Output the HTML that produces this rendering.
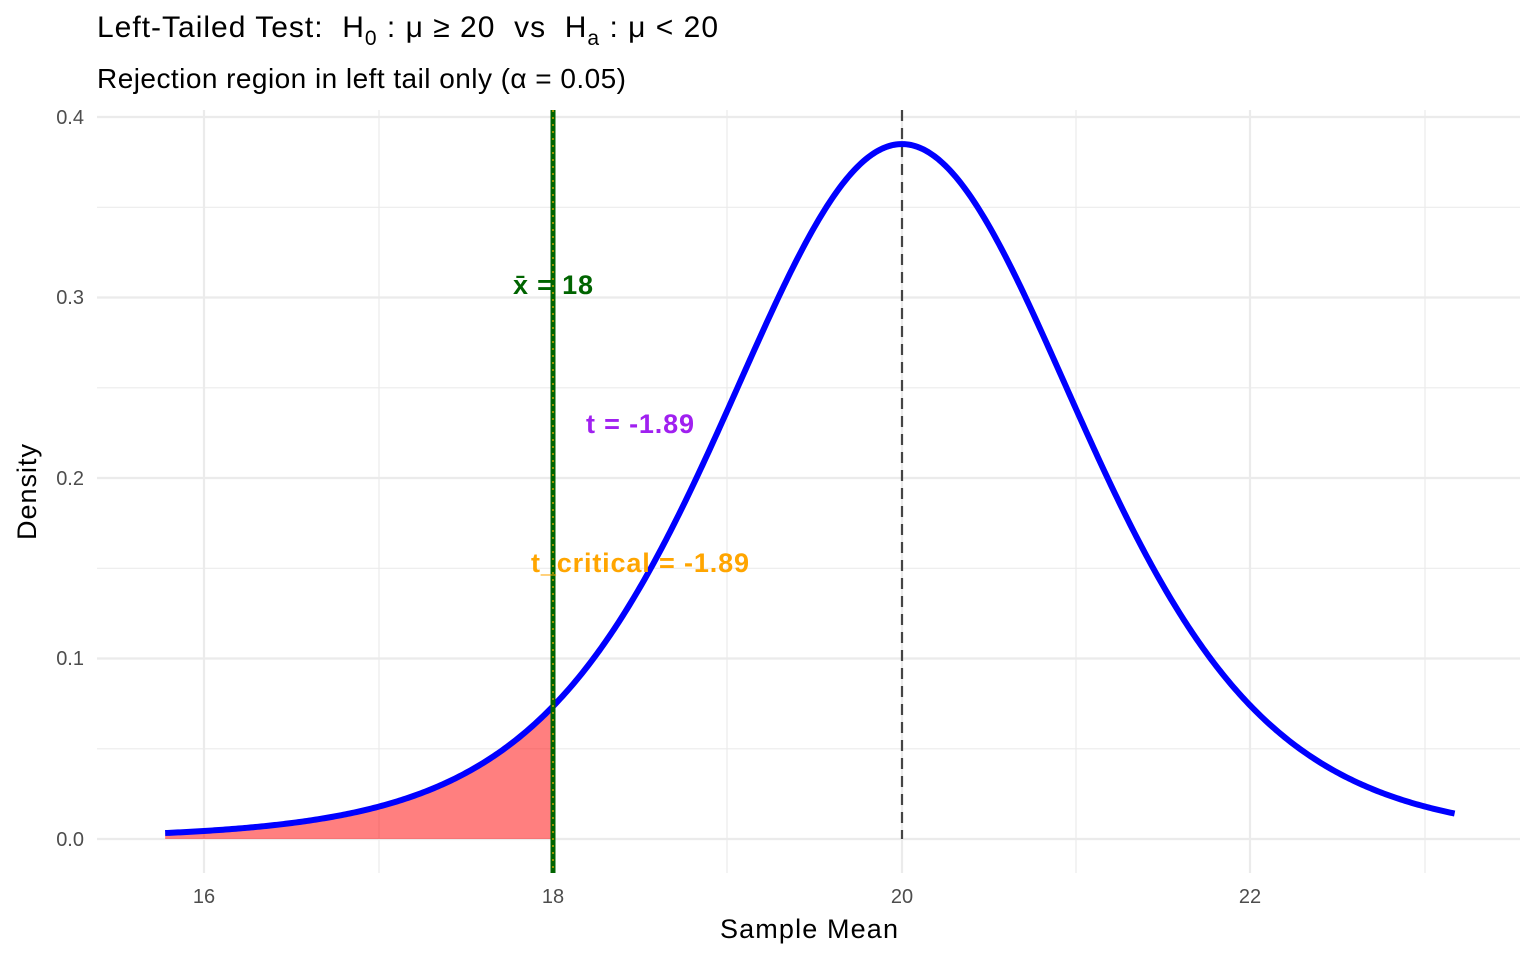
<!DOCTYPE html>
<html><head><meta charset="utf-8"><style>
body{margin:0;background:#fff}
svg text{font-family:"Liberation Sans",sans-serif}
</style></head><body>
<svg id="s" width="1536" height="960" xmlns="http://www.w3.org/2000/svg">
<g stroke="#ebebeb" stroke-width="1.2">
<line x1="97" x2="1520" y1="748.8" y2="748.8"/><line x1="97" x2="1520" y1="568.3" y2="568.3"/><line x1="97" x2="1520" y1="387.8" y2="387.8"/><line x1="97" x2="1520" y1="207.3" y2="207.3"/>
<line x1="379" x2="379" y1="110" y2="873"/><line x1="727" x2="727" y1="110" y2="873"/><line x1="1076" x2="1076" y1="110" y2="873"/><line x1="1425" x2="1425" y1="110" y2="873"/>
</g>
<g stroke="#ebebeb" stroke-width="2.2">
<line x1="97" x2="1520" y1="839" y2="839"/><line x1="97" x2="1520" y1="658.5" y2="658.5"/><line x1="97" x2="1520" y1="478" y2="478"/><line x1="97" x2="1520" y1="297.5" y2="297.5"/><line x1="97" x2="1520" y1="117" y2="117"/>
<line x1="204" x2="204" y1="110" y2="873"/><line x1="553" x2="553" y1="110" y2="873"/><line x1="902" x2="902" y1="110" y2="873"/><line x1="1250" x2="1250" y1="110" y2="873"/>
</g>
<path id="fill" fill="#ff0000" fill-opacity="0.5"/>
<line x1="902" x2="902" y1="110" y2="839" stroke="#444" stroke-width="2.2" stroke-dasharray="11,7"/>
<path id="curve" fill="none" stroke="#0000ff" stroke-width="6"/>
<line x1="553" x2="553" y1="110" y2="873" stroke="#006400" stroke-width="5"/>
<line x1="553" x2="553" y1="110" y2="873" stroke="#c8a000" stroke-width="1.5" stroke-dasharray="2,5"/>
<text x="553" y="294" text-anchor="middle" font-size="27" font-weight="bold" fill="#006400" textLength="80">x̄ = 18</text>
<text x="640" y="433" text-anchor="middle" font-size="27" font-weight="bold" fill="#a020f0" textLength="108">t = -1.89</text>
<text x="640" y="572" text-anchor="middle" font-size="27" font-weight="bold" fill="#ffa500" textLength="218">t_critical = -1.89</text>
<g font-size="20" fill="#4d4d4d" text-anchor="end">
<text x="84" y="846">0.0</text><text x="84" y="665">0.1</text><text x="84" y="485">0.2</text><text x="84" y="304">0.3</text><text x="84" y="124">0.4</text>
</g>
<g font-size="20" fill="#4d4d4d" text-anchor="middle">
<text x="204" y="903">16</text><text x="553" y="903">18</text><text x="902" y="903">20</text><text x="1250" y="903">22</text>
</g>
<text x="809" y="938" text-anchor="middle" font-size="27" fill="#000" textLength="178">Sample Mean</text>
<text transform="translate(36,492) rotate(-90)" text-anchor="middle" font-size="27" fill="#000" textLength="96">Density</text>
<text x="97" y="37" font-size="30" fill="#000" xml:space="preserve" textLength="621">Left-Tailed Test:  H<tspan font-size="21" dy="8">0</tspan><tspan dy="-8"> : μ ≥ 20  vs  H</tspan><tspan font-size="21" dy="8">a</tspan><tspan dy="-8"> : μ &lt; 20</tspan></text>
<text x="97" y="88" font-size="28" fill="#000" textLength="529">Rejection region in left tail only (α = 0.05)</text>
</svg>
<script>
var se=2/1.8946,df=7,c=0.38500;
function d(x){var t=(x-20)/se;return c*Math.pow(1+t*t/df,-(df+1)/2);}
function px(x){return 204+(x-16)*174.5;}function py(y){return 839-y*1805;}
var x0=20-4*se,x1=20+3*se,p="",f="M"+px(x0)+","+py(0);
for(var i=0;i<=600;i++){var x=x0+(x1-x0)*i/600;p+=(i?"L":"M")+px(x).toFixed(2)+","+py(d(x)).toFixed(2);}
for(var i=0;i<=200;i++){var x=x0+(18-x0)*i/200;f+="L"+px(x).toFixed(2)+","+py(d(x)).toFixed(2);}
f+="L"+px(18)+","+py(0)+"Z";
document.getElementById("curve").setAttribute("d",p);
document.getElementById("fill").setAttribute("d",f);
</script>
</body></html>
